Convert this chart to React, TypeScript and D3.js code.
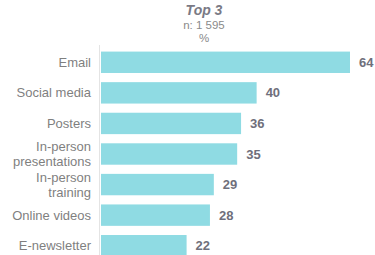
import React from "react";
import * as d3 from "d3";

const categories: string[][] = [
  ["Email"],
  ["Social media"],
  ["Posters"],
  ["In-person", "presentations"],
  ["In-person", "training"],
  ["Online videos"],
  ["E-newsletter"],
];
const values: number[] = [64, 40, 36, 35, 29, 28, 22];
const titleLines: string[] = ["Top 3", "n: 1 595", "%"];

const W = 375;
const H = 255;

export default function App() {
  const x0 = 101;
  const x = d3.scaleLinear().domain([0, 64]).range([x0, 350]);
  const y = d3
    .scaleBand<number>()
    .domain(d3.range(values.length))
    .range([47, 261])
    .paddingInner(0.3)
    .paddingOuter(0.15);
  const font = "Arial, 'Liberation Sans', sans-serif";
  return (
    <svg
      width={W}
      height={H}
      style={{ position: "absolute", left: 0, top: 0, background: "#fff" }}
      fontFamily={font}
    >
      <text x={204} y={15} textAnchor="middle" fontSize={14} fontWeight="bold" fontStyle="italic" fill="#7a7a85">
        {titleLines[0]}
      </text>
      <text x={204} y={28.5} textAnchor="middle" fontSize={11.5} fill="#8a8a8a">
        {titleLines[1]}
      </text>
      <text x={204} y={42} textAnchor="middle" fontSize={11.5} fill="#8a8a8a">
        {titleLines[2]}
      </text>
      <line x1={x0 - 1.5} x2={x0 - 1.5} y1={45} y2={H} stroke="#e4e4e4" strokeWidth={1} />
      {values.map((v, i) => {
        const yy = y(i)!;
        const bh = y.bandwidth();
        const cy = yy + bh / 2;
        const lines = categories[i];
        const lh = 15;
        return (
          <g key={i}>
            <rect x={x(0)} y={yy} width={x(v) - x(0)} height={bh} fill="#8fdbe3" />
            <text x={x(v) + 9} y={cy + 4.5} fontSize={13} fontWeight="bold" fill="#6f6f7b">
              {v}
            </text>
            <text x={91} y={cy + 4.5 - ((lines.length - 1) * lh) / 2} textAnchor="end" fontSize={13} fill="#7f7f7f">
              {lines.map((l, j) => (
                <tspan key={j} x={91} dy={j === 0 ? 0 : lh}>
                  {l}
                </tspan>
              ))}
            </text>
          </g>
        );
      })}
    </svg>
  );
}
